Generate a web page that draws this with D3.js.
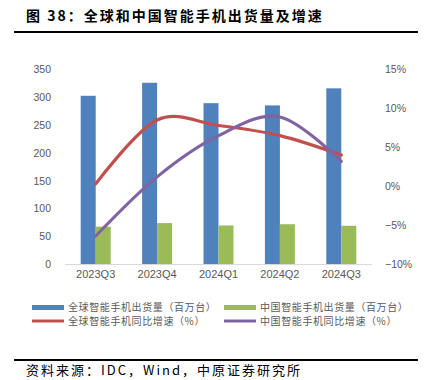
<!DOCTYPE html>
<html><head><meta charset="utf-8">
<script src="https://cdn.jsdelivr.net/npm/d3@7"></script>
<style>
body{margin:0;background:#fff;}
svg{display:block;}
</style></head>
<body>
<script>
const categories = ["2023Q3","2023Q4","2024Q1","2024Q2","2024Q3"];
const globalShip = [302.7, 326.1, 289.4, 285.4, 316.1];
const chinaShip = [67.2, 73.6, 69.3, 71.6, 68.8];
const globalGrowth = [0.3, 8.5, 7.8, 6.5, 4.0];
const chinaGrowth = [-6.4, 1.2, 6.5, 8.9, 3.2];
const leftTicks = [0,50,100,150,200,250,300,350];
const rightTicks = [-10,-5,0,5,10,15];
const seriesNames = ["全球智能手机出货量（百万台）","中国智能手机出货量（百万台）","全球智能手机同比增速（%）","中国智能手机同比增速（%）"];
const colors = ["#4f81bd","#9bbb59","#c0504d","#8064a2"];

const W=424,H=380;
const svg=d3.select("body").append("svg").attr("width",W).attr("height",H);
const cjk="'Noto Sans CJK SC','Noto Sans',sans-serif";
const latin="'Liberation Sans',Arial,sans-serif";

// title
svg.append("text").attr("x",26).attr("y",21).attr("font-family",cjk).attr("font-weight","bold")
  .attr("font-size",14).attr("letter-spacing",2).attr("fill","#000").text("图 38：全球和中国智能手机出货量及增速");
svg.append("line").attr("x1",14).attr("x2",418).attr("y1",32).attr("y2",32).attr("stroke","#000").attr("stroke-width",2);

const x=d3.scaleBand().domain(categories).range([65,372]);
const yL=d3.scaleLinear().domain([0,350]).range([264,69.5]);
const yR=d3.scaleLinear().domain([-10,15]).range([264,69.5]);
const bw=15;

// bars
const g=svg.append("g");
g.selectAll(".gb").data(categories).enter().append("rect")
  .attr("x",d=>x(d)+x.bandwidth()/2-bw).attr("width",bw)
  .attr("y",(d,i)=>yL(globalShip[i])).attr("height",(d,i)=>yL(0)-yL(globalShip[i]))
  .attr("fill",colors[0]);
g.selectAll(".cb").data(categories).enter().append("rect")
  .attr("x",d=>x(d)+x.bandwidth()/2).attr("width",bw)
  .attr("y",(d,i)=>yL(chinaShip[i])).attr("height",(d,i)=>yL(0)-yL(chinaShip[i]))
  .attr("fill",colors[1]);

// axis line
svg.append("line").attr("x1",65).attr("x2",372).attr("y1",yL(0)+0.5).attr("y2",yL(0)+0.5).attr("stroke","#d9d9d9").attr("stroke-width",1);

// lines
const line=d3.line().x((d,i)=>x(categories[i])+x.bandwidth()/2).y(d=>yR(d)).curve(d3.curveCardinal.tension(0));
svg.append("path").datum(globalGrowth).attr("d",line).attr("fill","none").attr("stroke",colors[2]).attr("stroke-width",3.2).attr("stroke-linecap","round");
svg.append("path").datum(chinaGrowth).attr("d",line).attr("fill","none").attr("stroke",colors[3]).attr("stroke-width",3.2).attr("stroke-linecap","round");

// axes
const axL=svg.append("g").attr("transform","translate(51,0)").call(d3.axisLeft(yL).tickValues(leftTicks).tickSize(0).tickPadding(0));
axL.select(".domain").remove();
axL.selectAll("text").attr("font-family",latin).attr("font-size",10.5).attr("fill","#595959");
const axR=svg.append("g").attr("transform","translate(385,0)").call(d3.axisRight(yR).tickValues(rightTicks).tickSize(0).tickPadding(0).tickFormat(d=>(d<0?"\u2212"+Math.abs(d):d)+"%"));
axR.select(".domain").remove();
axR.selectAll("text").attr("font-family",latin).attr("font-size",10.5).attr("fill","#595959");
const axB=svg.append("g").attr("transform","translate(0,270)").call(d3.axisBottom(x).tickSize(0).tickPadding(0));
axB.select(".domain").remove();
axB.selectAll("text").attr("font-family",latin).attr("font-size",11).attr("fill","#595959").attr("dy","0.71em");

// legend
const leg=[{x:32,y:307.5,t:"rect"},{x:224,y:307.5,t:"rect"},{x:32,y:321,t:"line"},{x:224,y:321,t:"line"}];
leg.forEach((l,i)=>{
  if(l.t==="rect"){
    svg.append("rect").attr("x",l.x).attr("y",l.y-2.5).attr("width",32).attr("height",5).attr("fill",colors[i]);
  } else {
    svg.append("line").attr("x1",l.x).attr("x2",l.x+32).attr("y1",l.y).attr("y2",l.y).attr("stroke",colors[i]).attr("stroke-width",3);
  }
  svg.append("text").attr("x",l.x+36).attr("y",l.y).attr("dy","0.35em").attr("font-family",cjk)
    .attr("font-size",10).attr("letter-spacing",0.6).attr("fill","#595959").text(seriesNames[i]);
});

// source
svg.append("line").attr("x1",14).attr("x2",418).attr("y1",360).attr("y2",360).attr("stroke","#000").attr("stroke-width",2);
svg.append("text").attr("x",26).attr("y",375).attr("font-family",cjk).attr("font-size",13).attr("letter-spacing",2)
  .attr("fill","#000").text("资料来源：IDC，Wind，中原证券研究所");
</script>
</body></html>
